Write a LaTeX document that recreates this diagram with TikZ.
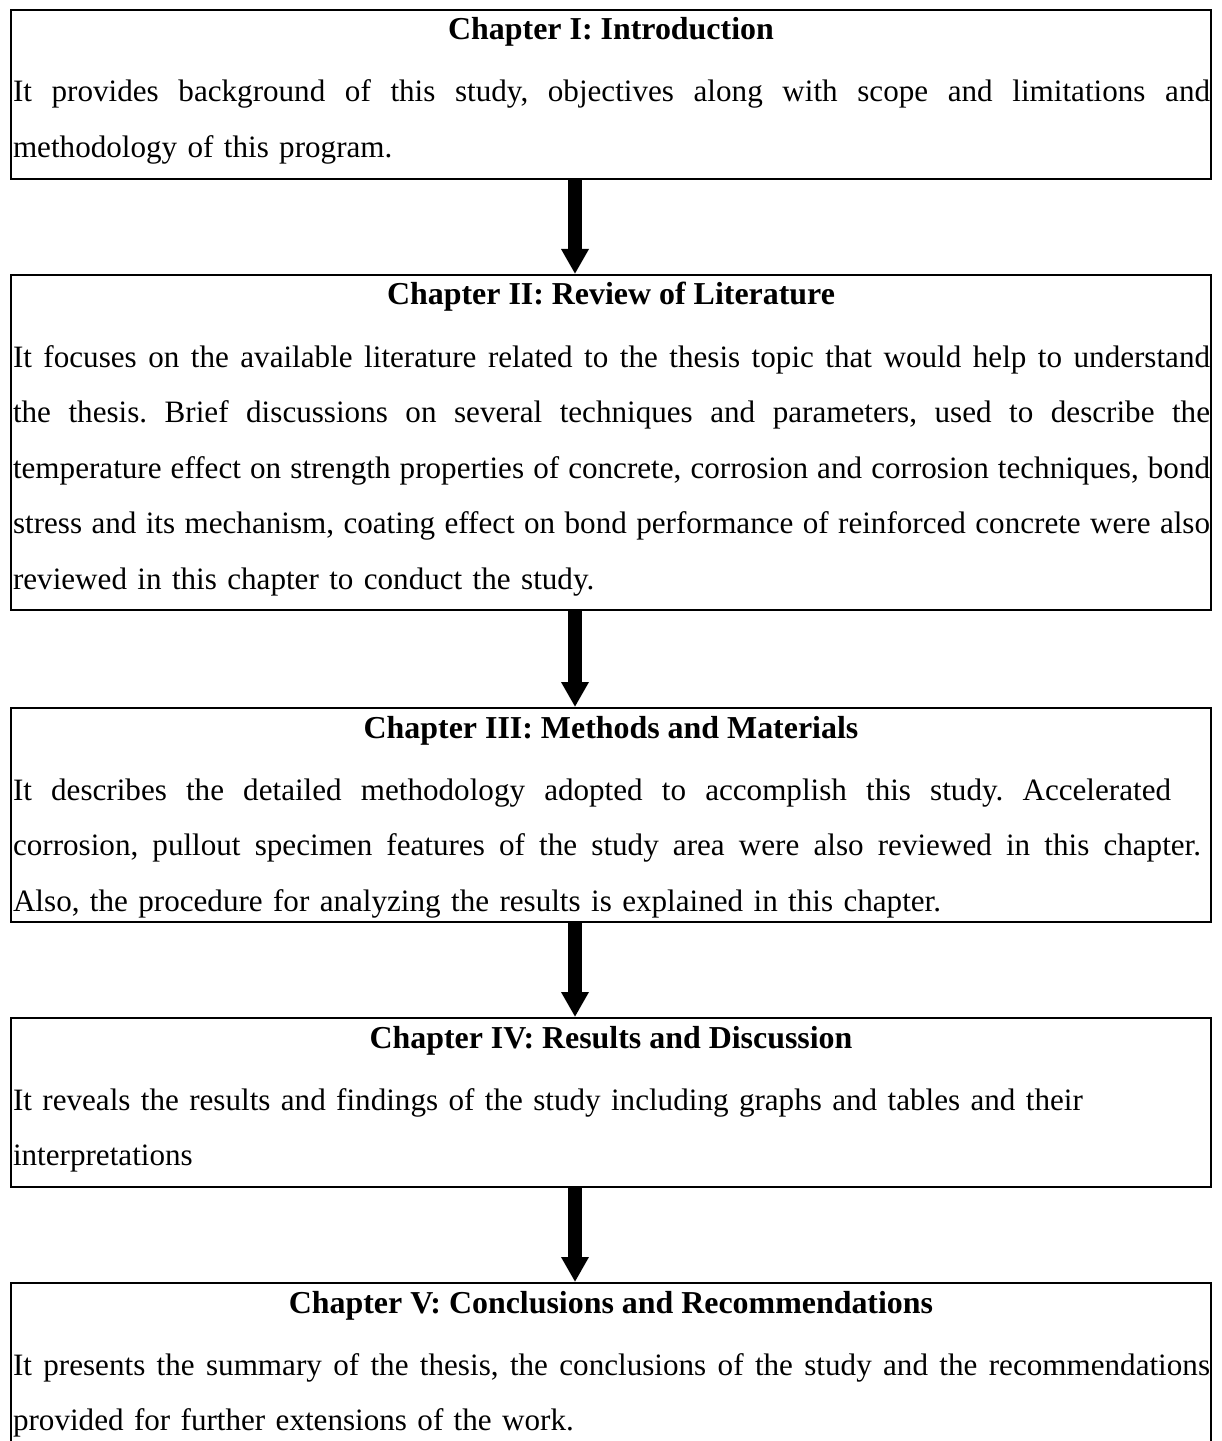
\documentclass[tikz,border=0pt]{standalone}
\usepackage{fontspec}
\setmainfont{Liberation Serif}
\usetikzlibrary{arrows.meta}

% one drawing unit = 0.376pt, y grows downwards
\tikzset{
  chapterbox/.style={draw=black, line width=0.75pt, minimum width=451.2pt,
    inner sep=0pt, anchor=north},
  chaptertitle/.style={inner sep=0pt, anchor=base,
    font=\fontsize{12}{20.87}\selectfont\bfseries},
  chapterbody/.style={inner sep=0pt, anchor=base west, text width=450.07pt,
    font=\fontsize{11.7}{20.87}\selectfont},
  flow/.style={line width=5.26pt,
    -{Triangle[width=9.8pt, length=9.4pt]}},
}
% a body is a stack of set lines; its baseline is that of the first line
\newcommand\bodylines[1]{\vtop{\hsize=450.07pt\baselineskip=20.87pt\frenchspacing #1}}
% a justified line: interword spaces stretch or shrink to the given width
\newcommand\widthline[2]{\hbox to #1{\spaceskip=0.25em plus 1em minus 0.12em\relax #2}}
\newcommand\fullline[1]{\widthline{450.07pt}{#1}}
\newcommand\plainline[1]{\hbox{#1}}

\begin{document}
\begin{tikzpicture}[x=0.376pt, y=-0.376pt]
  \useasboundingbox (0,0) rectangle (1221,1441);
  \clip (0,0) rectangle (1221,1441);

  % boxes
  \node[chapterbox, minimum height=63.54pt]  (b1) at (611,9)    {};
  \node[chapterbox, minimum height=125.96pt] (b2) at (611,274)  {};
  \node[chapterbox, minimum height=80.46pt]  (b3) at (611,707)  {};
  \node[chapterbox, minimum height=63.54pt]  (b4) at (611,1017) {};
  \node[chapterbox, minimum height=63.54pt]  (b5) at (611,1282) {};

  % Chapter I
  \node[chaptertitle] (t1) at (611,40) {Chapter I: Introduction};
  \node[chapterbody] (p1) at (12.5,102) {\bodylines{%
    \fullline{It provides background of this study, objectives along with scope and limitations and}
    \plainline{methodology of this program.}}};

  % Chapter II
  \node[chaptertitle] (t2) at (611,305) {Chapter II: Review of Literature};
  \node[chapterbody] (p2) at (12.5,367) {\bodylines{%
    \fullline{It focuses on the available literature related to the thesis topic that would help to understand}
    \fullline{the thesis. Brief discussions on several techniques and parameters, used to describe the}
    \fullline{temperature effect on strength properties of concrete, corrosion and corrosion techniques, bond}
    \fullline{stress and its mechanism, coating effect on bond performance of reinforced concrete were also}
    \plainline{reviewed in this chapter to conduct the study.}}};

  % Chapter III
  \node[chaptertitle] (t3) at (611,738) {Chapter III: Methods and Materials};
  \node[chapterbody] (p3) at (12.5,800) {\bodylines{%
    \widthline{435.4pt}{It describes the detailed methodology adopted to accomplish this study. Accelerated}
    \widthline{446.7pt}{corrosion, pullout specimen features of the study area were also reviewed in this chapter.}
    \plainline{Also, the procedure for analyzing the results is explained in this chapter.}}};

  % Chapter IV
  \node[chaptertitle] (t4) at (611,1048) {Chapter IV: Results and Discussion};
  \node[chapterbody] (p4) at (12.5,1110) {\bodylines{%
    \plainline{It reveals the results and findings of the study including graphs and tables and their}
    \plainline{interpretations}}};

  % Chapter V
  \node[chaptertitle] (t5) at (611,1313) {Chapter V: Conclusions and Recommendations};
  \node[chapterbody] (p5) at (12.5,1375) {\bodylines{%
    \fullline{It presents the summary of the thesis, the conclusions of the study and the recommendations}
    \plainline{provided for further extensions of the work.}}};

  % arrows between chapters
  \coordinate (ax) at (575,0);
  \draw[flow] (b1.south -| ax) -- (b2.north -| ax);
  \draw[flow] (b2.south -| ax) -- (b3.north -| ax);
  \draw[flow] (b3.south -| ax) -- (b4.north -| ax);
  \draw[flow] (b4.south -| ax) -- (b5.north -| ax);
\end{tikzpicture}
\end{document}
